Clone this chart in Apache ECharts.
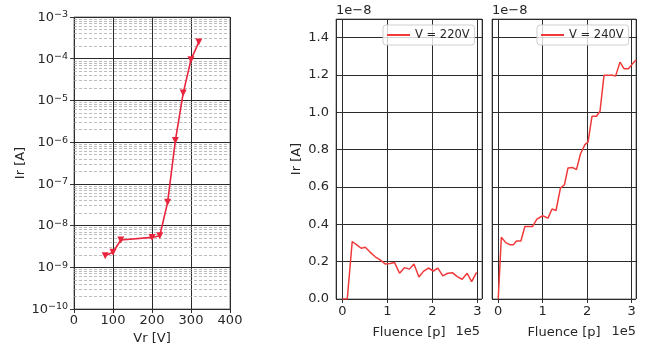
<!DOCTYPE html>
<html>
<head>
<meta charset="utf-8">
<script src="https://cdn.jsdelivr.net/npm/echarts@6/dist/echarts.min.js"></script>
<style>
html, body {margin: 0; padding: 0; background: #fff;}
#chart {width: 645px; height: 345px;}
</style>
</head>
<body>
<div id="chart"></div>
<script>
// IV curve (left)
const voltage = [80, 100, 120, 200, 220, 240, 260, 280, 300, 320];
const leakage = [1.9e-9, 2.3e-9, 4.5e-9, 5.2e-9, 5.7e-9, 3.6e-8, 1.1e-6, 1.5e-5, 9.5e-5, 2.5e-4];

// current vs fluence, fluence in 1e5 p, current in 1e-8 A
const fluence220 = [0, 0.11, 0.22, 0.32, 0.42, 0.51, 0.62, 0.73, 0.84, 0.95, 1.06, 1.16, 1.27, 1.38, 1.49,
    1.59, 1.70, 1.80, 1.91, 2.02, 2.12, 2.23, 2.34, 2.45, 2.55, 2.66, 2.77, 2.87, 2.98];
const current220 = [0, 0, 0.308, 0.29, 0.272, 0.277, 0.25, 0.226, 0.21, 0.188, 0.19, 0.195, 0.138, 0.168, 0.16,
    0.188, 0.118, 0.148, 0.166, 0.15, 0.165, 0.124, 0.138, 0.14, 0.12, 0.106, 0.138, 0.093, 0.143];
const fluence240 = [0, 0.07, 0.17, 0.27, 0.34, 0.41, 0.51, 0.6, 0.77, 0.87, 1.0, 1.12, 1.21, 1.3, 1.4, 1.49, 1.57,
    1.67, 1.76, 1.85, 1.95, 2.02, 2.11, 2.21, 2.29, 2.38, 2.48, 2.55, 2.64, 2.74, 2.83, 2.93, 3.01, 3.1];
const current240 = [0, 0.331, 0.302, 0.29, 0.29, 0.311, 0.311, 0.388, 0.388, 0.428, 0.446, 0.433, 0.482, 0.474,
    0.594, 0.612, 0.702, 0.705, 0.693, 0.777, 0.827, 0.84, 0.979, 0.979, 1.006, 1.198, 1.198, 1.2, 1.194, 1.269,
    1.234, 1.234, 1.257, 1.28];

const logDecades = [-10, -9, -8, -7, -6, -5, -4];
const seriesNames = ["V = 220V", "V = 240V"];

const zip = (xs, ys) => xs.map((x, i) => [x, ys[i]]);
const powLabel = v => "{b|10}{e|" + String(Math.round(Math.log10(v))).replace("-", "−") + "}";

// matplotlib style minor grid at 2..9 x 10^n, placed on a hidden linear axis in log10 units
const minorLines = [];
logDecades.forEach(n => {
    for (let k = 2; k <= 9; k++) minorLines.push({yAxis: n + Math.log10(k)});
});

const font = "DejaVu Sans";
const ink = "#262626";
const gridLine = {show: true, lineStyle: {color: "#2b2b2b", width: 1}};
const tick = {show: true, length: 4, lineStyle: {color: "#333"}};
const label = {color: ink, fontFamily: font, fontSize: 13};
const nameStyle = {color: ink, fontFamily: font, fontSize: 13};
const frame = {show: true, borderColor: "#7a7a7a", borderWidth: 1, backgroundColor: "transparent", outerBoundsMode: "none"};

const fluenceAxis = (idx) => ({
    gridIndex: idx,
    type: "value",
    min: -0.14,
    max: 3.1,
    splitNumber: 3,
    axisLine: {show: false},
    axisTick: tick,
    axisLabel: {...label, margin: 6, showMinLabel: false, showMaxLabel: false},
    splitLine: gridLine,
    name: "Fluence [p]",
    nameLocation: "middle",
    nameGap: 27,
    nameTextStyle: nameStyle
});

const currentAxis = (idx, withLabels) => ({
    gridIndex: idx,
    type: "value",
    min: 0,
    max: 1.5,
    splitNumber: 7,
    axisLine: {show: false},
    axisTick: tick,
    axisLabel: {...label, show: withLabels, margin: 7, showMaxLabel: false, formatter: v => v.toFixed(1)},
    splitLine: gridLine,
    name: withLabels ? "Ir [A]" : "",
    nameLocation: "middle",
    nameGap: 33,
    nameTextStyle: nameStyle
});

const legendBox = (name, left) => ({
    data: [name],
    left: left,
    top: 25,
    orient: "horizontal",
    icon: "rect",
    padding: [4, 5, 4, 4],
    itemWidth: 23,
    itemHeight: 2,
    itemGap: 0,
    borderColor: "#cfcfcf",
    borderWidth: 1,
    borderRadius: 3,
    backgroundColor: "rgba(255,255,255,0.8)",
    textStyle: {color: ink, fontFamily: font, fontSize: 11.5}
});

const offsetText = (text, x, y, align) => ({
    type: "text",
    left: align === "right" ? undefined : x,
    right: align === "right" ? 645 - x : undefined,
    top: y,
    style: {text: text, fill: ink, font: "13px DejaVu Sans"}
});

const chart = echarts.init(document.getElementById("chart"));
chart.setOption({
    animation: false,
    backgroundColor: "#fff",
    grid: [
        {left: 74, top: 17, width: 156, height: 292, ...frame},
        {left: 336, top: 19, width: 146, height: 280, ...frame},
        {left: 492, top: 19, width: 144, height: 280, ...frame}
    ],
    legend: [legendBox(seriesNames[0], 383), legendBox(seriesNames[1], 537)],
    graphic: [
        offsetText("1e−8", 336, 4),
        offsetText("1e−8", 492, 4),
        offsetText("1e5", 480, 325, "right"),
        offsetText("1e5", 636, 325, "right")
    ],
    xAxis: [
        {
            gridIndex: 0,
            type: "value",
            min: 0,
            max: 400,
            interval: 100,
            axisLine: {show: false},
            axisTick: tick,
            axisLabel: {...label, margin: 5},
            splitLine: gridLine,
            name: "Vr [V]",
            nameLocation: "middle",
            nameGap: 21,
            nameTextStyle: nameStyle
        },
        fluenceAxis(1),
        fluenceAxis(2)
    ],
    yAxis: [
        {
            gridIndex: 0,
            type: "log",
            logBase: 10,
            min: 1e-10,
            max: 1e-3,
            axisLine: {show: false},
            axisTick: tick,
            axisLabel: {
                ...label,
                margin: 6,
                formatter: powLabel,
                rich: {
                    b: {color: ink, fontFamily: font, fontSize: 13, lineHeight: 14, verticalAlign: "bottom"},
                    e: {color: ink, fontFamily: font, fontSize: 9.5, lineHeight: 10, verticalAlign: "top", padding: [0, 0, 6, 0]}
                }
            },
            splitLine: gridLine,
            name: "Ir [A]",
            nameLocation: "middle",
            nameGap: 47,
            nameTextStyle: nameStyle
        },
        currentAxis(1, true),
        currentAxis(2, false),
        {
            gridIndex: 0,
            type: "value",
            min: -10,
            max: -3,
            show: false
        }
    ],
    series: [
        {
            type: "line",
            xAxisIndex: 0,
            yAxisIndex: 3,
            data: [],
            silent: true,
            markLine: {
                silent: true,
                symbol: "none",
                label: {show: false},
                lineStyle: {color: "#a0a0a0", type: [3, 2], width: 0.7},
                data: minorLines
            },
            z: 1
        },
        {
            type: "line",
            xAxisIndex: 0,
            yAxisIndex: 0,
            data: zip(voltage, leakage),
            symbol: "triangle",
            symbolRotate: 180,
            symbolSize: 7,
            lineStyle: {color: "#e8253d", width: 1.6},
            itemStyle: {color: "#e8253d"},
            z: 5
        },
        {
            name: seriesNames[0],
            type: "line",
            xAxisIndex: 1,
            yAxisIndex: 1,
            data: zip(fluence220, current220),
            symbol: "none",
            lineStyle: {color: "#f03a3a", width: 1.5},
            itemStyle: {color: "#f03a3a"}
        },
        {
            name: seriesNames[1],
            type: "line",
            xAxisIndex: 2,
            yAxisIndex: 2,
            data: zip(fluence240, current240),
            symbol: "none",
            lineStyle: {color: "#f03a3a", width: 1.5},
            itemStyle: {color: "#f03a3a"}
        }
    ]
});
</script>
</body>
</html>
